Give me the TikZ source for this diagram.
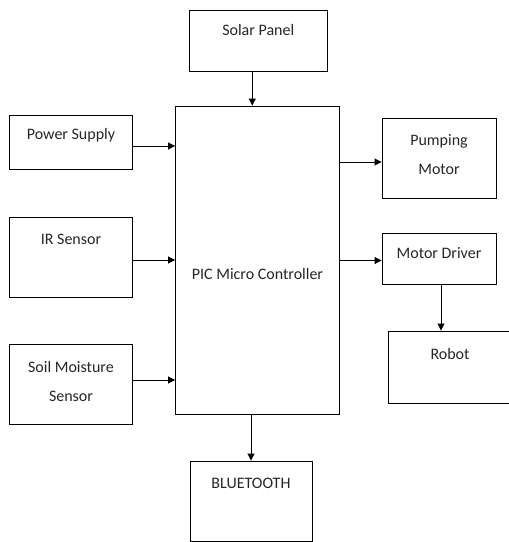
\documentclass[tikz,border=0pt]{standalone}
\usepackage{fontspec}
\setmainfont{Carlito}
\usetikzlibrary{arrows.meta}

\tikzset{
  blk/.style={draw, line width=0.9pt, inner sep=0pt},
  txt/.style 2 args={label={[anchor=center, yshift=-#2, align=center, text=black!85]north:#1}},
  arr/.style={-{Triangle[length=7pt,width=7pt]}, line width=0.9pt}
}

\begin{document}
\begin{tikzpicture}[x=1pt, y=-1pt, font=\fontsize{16}{28.5}\selectfont]
  \useasboundingbox (0,0) rectangle (509,542);
  % blocks
  \node[blk, minimum width=137.5pt, minimum height=61.7pt, txt={Solar Panel}{20pt}] (solar) at (258.25,40.85) {};
  \node[blk, minimum width=164pt, minimum height=308pt, txt={PIC Micro Controller}{168pt}] (pic) at (257.5,260) {};
  \node[blk, minimum width=123pt, minimum height=54pt, txt={Power Supply}{21pt}] (power) at (71,142) {};
  \node[blk, minimum width=123pt, minimum height=80pt, txt={IR Sensor}{23pt}] (ir) at (71,257) {};
  \node[blk, minimum width=123pt, minimum height=80pt, txt={Soil Moisture\\Sensor}{38pt}] (soil) at (71,384) {};
  \node[blk, minimum width=114pt, minimum height=80pt, txt={Pumping\\Motor}{37pt}] (pump) at (439,158) {};
  \node[blk, minimum width=114pt, minimum height=51pt, txt={Motor Driver}{20pt}] (driver) at (439,258.5) {};
  \node[blk, minimum width=124pt, minimum height=72pt, txt={Robot}{23pt}] (robot) at (450,367) {};
  \node[blk, minimum width=122pt, minimum height=80pt, txt={BLUETOOTH}{23pt}] (bt) at (251,501) {};

  % connections
  \draw[arr] ([xshift=-6pt]solar.south) -- ([xshift=-6pt]solar.south |- pic.north);
  \draw[arr] ([yshift=-4pt]power.east) -- ([yshift=-4pt]power.east -| pic.west);
  \draw[arr] ([yshift=-3pt]ir.east) -- ([yshift=-3pt]ir.east -| pic.west);
  \draw[arr] ([yshift=4pt]soil.east) -- ([yshift=4pt]soil.east -| pic.west);
  \draw[arr] ([yshift=-4pt]pump.west -| pic.east) -- ([yshift=-4pt]pump.west);
  \draw[arr] ([yshift=-2pt]driver.west -| pic.east) -- ([yshift=-2pt]driver.west);
  \draw[arr] ([xshift=2pt]driver.south) -- ([xshift=2pt]driver.south |- robot.north);
  \draw[arr] (bt.north |- pic.south) -- (bt.north);
\end{tikzpicture}
\end{document}
